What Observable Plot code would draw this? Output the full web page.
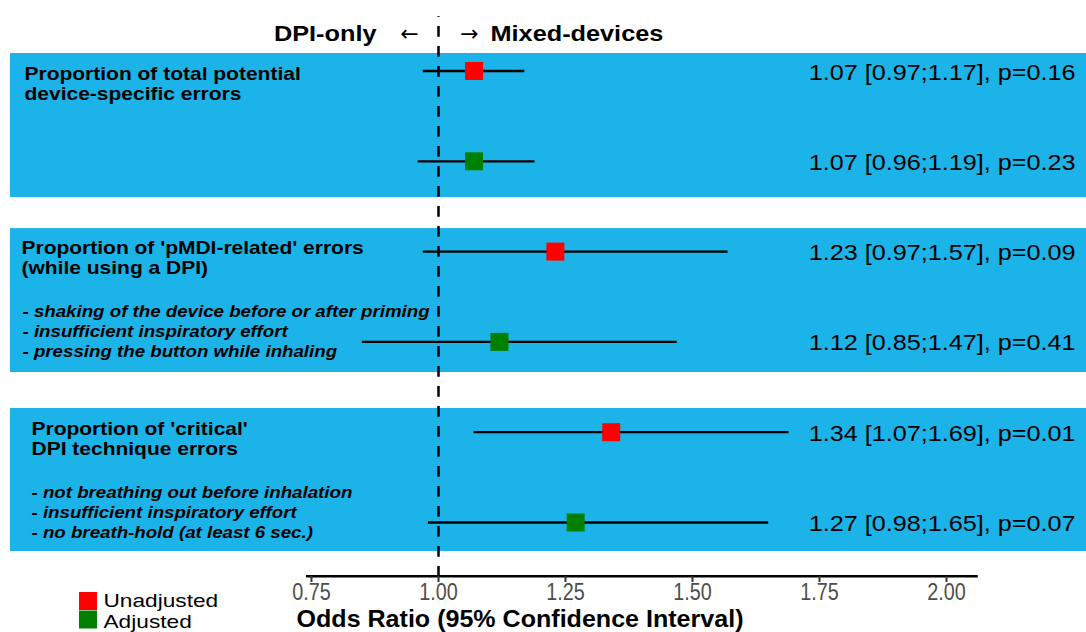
<!DOCTYPE html>
<html>
<head>
<meta charset="utf-8">
<script src="https://cdn.jsdelivr.net/npm/d3@7"></script>
<script src="https://cdn.jsdelivr.net/npm/@observablehq/plot@0.6"></script>
<style>
  html, body { margin: 0; padding: 0; background: #fff; }
  #chart { width: 1086px; height: 632px; overflow: hidden; }
</style>
</head>
<body>
<div id="chart"></div>
<script>
// ---------------- data ----------------
const groupTitles = [
  "Proportion of total potential\ndevice-specific errors",
  "Proportion of 'pMDI-related' errors\n(while using a DPI)",
  "Proportion of 'critical'\nDPI technique errors"
];
const groupDetails = [
  "",
  "- shaking of the device before or after priming\n- insufficient inspiratory effort\n- pressing the button while inhaling",
  "- not breathing out before inhalation\n- insufficient inspiratory effort\n- no breath-hold (at least 6 sec.)"
];
const rowGroup  = [0, 0, 1, 1, 2, 2];
const rowModel  = ["Unadjusted", "Adjusted", "Unadjusted", "Adjusted", "Unadjusted", "Adjusted"];
const oddsRatio = [1.07, 1.07, 1.23, 1.12, 1.34, 1.27];
const ciLower   = [0.97, 0.96, 0.97, 0.85, 1.07, 0.98];
const ciUpper   = [1.17, 1.19, 1.57, 1.47, 1.69, 1.65];
const pValue    = ["0.16", "0.23", "0.09", "0.41", "0.01", "0.07"];
const models      = ["Unadjusted", "Adjusted"];
const modelColors = ["#FF0000", "#008000"];
const xTicks    = [0.75, 1.00, 1.25, 1.50, 1.75, 2.00];
const nullValue = 1;
const headerLeft  = "DPI-only";
const headerRight = "Mixed-devices";
const xLabel = "Odds Ratio (95% Confidence Interval)";

// ---------------- layout / style constants ----------------
const FONT = "'Liberation Sans', Arial, Helvetica, sans-serif";
const W = 1086, H = 632;
const Y0 = 70.5, ROW = 90.3;                 // pixel of first row, px per row
const px2row = (p) => (p - Y0) / ROW;
const bandPadTop    = [17.5, 23, 23.7];
const bandPadBottom = [36.2, 30.6, 29];
const titleInset = [14, 11, 21];
const titleDy    = [-5.5, -12.1, -11.7];
const detailInset = [0, 12, 21];
const detailDy    = -39.2;
const BAND = "#1BB3E8";

const fmt = d3.format(".2f");
const rows = oddsRatio.map((v, i) => ({
  row: i,
  group: rowGroup[i],
  model: rowModel[i],
  or: v,
  lo: ciLower[i],
  hi: ciUpper[i],
  label: `${fmt(v)} [${fmt(ciLower[i])};${fmt(ciUpper[i])}], p=${pValue[i]}`
}));

const groups = groupTitles.map((t, g) => {
  const r = rows.filter(d => d.group === g).map(d => d.row);
  const first = d3.min(r), last = d3.max(r);
  return {
    group: g, first, last, title: t, detail: groupDetails[g],
    y1: first - bandPadTop[g] / ROW,
    y2: last + bandPadBottom[g] / ROW
  };
});

const marks = [];
// bands
marks.push(Plot.rect(groups, {y1: "y1", y2: "y2", fill: BAND}));
// reference dashed line (spans the frame)
marks.push(Plot.ruleX([nullValue], {stroke: "black", strokeWidth: 2.5, strokeDasharray: "10.7,9.3", strokeDashoffset: 10}));
// CI lines
marks.push(Plot.ruleY(rows, {y: "row", x1: "lo", x2: "hi", stroke: "black", strokeWidth: 2.3}));
// point estimates
marks.push(Plot.dot(rows, {x: "or", y: "row", fill: "model", symbol: "square", r: 10.15}));
// right-hand labels
marks.push(Plot.text(rows, {
  y: "row", text: "label", frameAnchor: "right", textAnchor: "end", lineAnchor: "bottom",
  dx: -11, dy: 8.5, fontSize: 22.3, fill: "black", ariaDescription: "stretch:1.13"
}));
// group titles and details
groups.forEach((g) => {
  marks.push(Plot.text([g], {
    y: "first", text: "title", frameAnchor: "left", textAnchor: "start", lineAnchor: "top",
    dx: titleInset[g.group], dy: titleDy[g.group], fontSize: 17.5, lineHeight: 20 / 17.5,
    fontWeight: "bold", fill: "black", ariaDescription: "stretch:1.2"
  }));
  if (g.detail) {
    marks.push(Plot.text([g], {
      y: "last", text: "detail", frameAnchor: "left", textAnchor: "start", lineAnchor: "top",
      dx: detailInset[g.group], dy: detailDy, fontSize: 17, lineHeight: 20.2 / 17,
      fontWeight: "bold", fontStyle: "italic", fill: "black", ariaDescription: "stretch:1.1"
    }));
  }
});
// header
marks.push(Plot.text([headerLeft], {
  x: nullValue, text: d => d, frameAnchor: "top", textAnchor: "end", lineAnchor: "top",
  dx: -62, dy: 9, fontSize: 22, fontWeight: "bold", fill: "black", ariaDescription: "stretch:1.15"
}));
marks.push(Plot.text([headerRight], {
  x: nullValue, text: d => d, frameAnchor: "top", textAnchor: "start", lineAnchor: "top",
  dx: 52, dy: 9, fontSize: 22, fontWeight: "bold", fill: "black", ariaDescription: "stretch:1.15"
}));
marks.push(Plot.text(["\u2190"], {
  x: nullValue, text: d => d, frameAnchor: "top", textAnchor: "middle", lineAnchor: "bottom",
  dx: -29, dy: 24, fontSize: 22, fontFamily: "'DejaVu Sans', sans-serif", fill: "black"
}));
marks.push(Plot.text(["\u2192"], {
  x: nullValue, text: d => d, frameAnchor: "top", textAnchor: "middle", lineAnchor: "bottom",
  dx: 31, dy: 24, fontSize: 22, fontFamily: "'DejaVu Sans', sans-serif", fill: "black"
}));
// x axis line, ticks, labels, title
marks.push(Plot.ruleY([px2row(575.7)], {x1: 0.74, x2: 2.0625, stroke: "black", strokeWidth: 2.5}));
marks.push(Plot.axisX(xTicks, {
  anchor: "bottom", tickSize: 6, tickPadding: 1, tickFormat: fmt, fontSize: 23,
  fill: "#4D4D4D", stroke: "#333333", strokeWidth: 2, label: null, ariaDescription: "stretch:0.86"
}));
marks.push(Plot.text([xLabel], {
  text: d => d, frameAnchor: "bottom", textAnchor: "middle", lineAnchor: "bottom",
  dx: -28.5, dy: 50.5, fontSize: 23, fontWeight: "bold", fill: "black", ariaDescription: "stretch:1.09"
}));
// legend
models.forEach((m, i) => {
  marks.push(Plot.dot([m], {
    frameAnchor: "bottom-left", dx: 77.5, dy: 24.5 + i * 18.5,
    symbol: "square", r: 10.15, fill: modelColors[i]
  }));
  marks.push(Plot.text([m], {
    text: d => d, frameAnchor: "bottom-left", textAnchor: "start", lineAnchor: "bottom",
    dx: 93, dy: 30 + i * 21, fontSize: 18, fill: "black", ariaDescription: "stretch:1.26"
  }));
});

const chart = Plot.plot({
  width: W,
  height: H,
  marginTop: 16,
  marginBottom: 56,
  marginLeft: 10,
  marginRight: 0,
  style: {fontFamily: FONT, background: "white", color: "black", overflow: "visible"},
  x: {domain: [0.75, 2.0], range: [311, 946], axis: null},
  y: {type: "linear", domain: [0, 5], range: [Y0, Y0 + 5 * ROW], axis: null},
  color: {domain: models, range: modelColors, legend: false},
  marks
});
document.getElementById("chart").appendChild(chart);

// horizontal stretch of text (reference glyphs are wider than Arial metrics)
const done = new Set();
chart.querySelectorAll("g[aria-description]").forEach((g) => {
  const m = /stretch:([\d.]+)/.exec(g.getAttribute("aria-description") || "");
  if (!m) return;
  g.querySelectorAll("text").forEach((t) => {
    if (done.has(t)) return;
    done.add(t);
    const tr = t.getAttribute("transform") || "";
    t.setAttribute("transform", `${tr} scale(${m[1]},1)`);
  });
});
chart.querySelectorAll('g[aria-label="x-axis tick label"] text').forEach((t) => {
  if (done.has(t)) return;
  done.add(t);
  const tr = t.getAttribute("transform") || "";
  t.setAttribute("transform", `${tr} scale(0.86,1)`);
});
</script>
</body>
</html>
